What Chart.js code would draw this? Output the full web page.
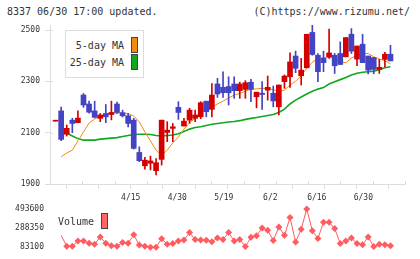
<!DOCTYPE html>
<html>
<head>
<meta charset="utf-8">
<script src="https://cdn.jsdelivr.net/npm/chart.js@4.4.1/dist/chart.umd.min.js"></script>
<style>
  body { margin: 0; width: 420px; height: 259px; background: #fff; position: relative; overflow: hidden;
         font-family: 'DejaVu Sans Mono', monospace; color: #333; }
  canvas { position: absolute; left: 0; }
  #price { top: 0; }
  #volume { top: 195px; }
  .txt { position: absolute; font-size: 10px; line-height: 12px; white-space: pre; }
  .box { position: absolute; border: 1px solid #ddd; background: #fff; box-sizing: border-box; }
  .sw { position: absolute; border: 1px solid #444; box-sizing: border-box; }
</style>
</head>
<body>
<div class="txt" style="left:7px; top:6px;">8337 06/30 17:00 updated.</div>
<div class="txt" style="right:10px; top:6px;">(C)https://www.rizumu.net/</div>

<canvas id="price" width="420" height="206"></canvas>
<canvas id="volume" width="420" height="64"></canvas>

<!-- legends -->
<div class="box" style="left:65px; top:30px; width:79px; height:48px;"></div>
<div class="txt" style="right:296px; top:40px;">5-day MA</div>
<div class="txt" style="right:296px; top:57px;">25-day MA</div>
<div class="sw" style="left:131px; top:37px; width:7px; height:16px; background:#f08c10;"></div>
<div class="sw" style="left:131px; top:54px; width:7px; height:16px; background:#10a820;"></div>
<div class="txt" style="left:58px; top:216px;">Volume</div>
<div class="sw" style="left:101px; top:213px; width:7px; height:16px; background:#ff6466;"></div>

<script>
// --- DATA ---
const dates = ['4/1','4/2','4/3','4/4','4/7','4/8','4/9','4/10','4/11','4/14',
    '4/15','4/16','4/17','4/18','4/21','4/22','4/23','4/24','4/25','4/28',
    '4/30','5/2','5/7','5/8','5/9','5/12','5/13','5/14','5/15','5/16',
    '5/19','5/20','5/21','5/22','5/23','5/26','5/27','5/28','5/29','5/30',
    '6/2','6/3','6/4','6/5','6/6','6/9','6/10','6/11','6/12','6/13',
    '6/16','6/17','6/18','6/19','6/20','6/23','6/24','6/25','6/26','6/27','6/30'];
const labelDates = ['4/15', '4/30', '5/19', '6/2', '6/16', '6/30'];

const open  = [2145,2185,2094,2149,2139,2247,2212,2185,2156,2175, 2171,2212,2178,2166,2149,2023,1971,1981,1952,1996,
               2101,2117,2199,2126,2149,2156,2162,2223,2191,2290, 2277,2280,2290,2264,2269,2297,2240,2254,2266,2254,
               2201,2299,2318,2399,2322,2353,2491,2402,2390,2396, 2402,2409,2396,2484,2387,2445,2399,2393,2347,2386,2406];
const high  = [2145,2200,2130,2156,2185,2253,2223,2223,2175,2210, 2223,2219,2188,2175,2156,2045,2004,2009,1999,2149,
               2143,2136,2221,2156,2195,2188,2221,2223,2292,2312, 2337,2318,2318,2297,2303,2308,2258,2299,2321,2282,
               2286,2325,2411,2418,2390,2484,2519,2409,2418,2504, 2409,2454,2471,2506,2438,2484,2399,2393,2386,2413,2441];
const low   = [2145,2069,2087,2100,2139,2199,2176,2158,2143,2139, 2150,2175,2161,2123,2036,1987,1958,1955,1935,1974,
               2065,2065,2152,2126,2137,2143,2155,2162,2162,2238, 2238,2208,2234,2234,2234,2221,2197,2191,2227,2201,
               2169,2273,2277,2334,2286,2353,2402,2299,2338,2390, 2331,2366,2396,2409,2361,2373,2329,2330,2331,2357,2380];
const close = [2145,2074,2117,2136,2157,2208,2180,2160,2169,2162, 2179,2179,2166,2136,2039,1991,1993,1990,1983,2149,
               2110,2123,2179,2145,2188,2169,2217,2182,2247,2251, 2256,2256,2264,2290,2295,2269,2258,2249,2277,2224,
               2286,2321,2376,2351,2344,2484,2405,2338,2373,2411, 2361,2366,2471,2418,2438,2373,2344,2347,2355,2406,2380];

const ma5  = [null,2006,2021,2032,2068,2103,2138,2153,2165,2173, 2177,2177,2177,2175,2165,2142,2103,2068,2032,2013,
              2032,2060,2083,2114,2138,2157,2180,2188,2200,2212, 2223,2235,2247,2253,2262,2269,2271,2273,2272,2268,
              2260,2266,2286,2301,2321,2352,2375,2389,2393,2394, 2391,2376,2373,2391,2403,2409,2409,2396,2387,2381,2368];
const ma25 = [null,2106,2099,2087,2077,2071,2071,2071,2075,2077, 2079,2081,2085,2089,2093,2094,2094,2093,2089,2087,
              2089,2091,2096,2105,2114,2120,2123,2128,2133,2136, 2139,2142,2144,2147,2152,2156,2159,2163,2167,2171,
              2179,2192,2212,2227,2239,2251,2262,2270,2276,2290, 2299,2307,2315,2325,2332,2336,2338,2340,2346,2353,2357];

const volume = [null,210300,93100,93100,150200,150200,126200,116100,193200,126200,
                100100,93100,133200,126200,216300,106100,93100,84000,83100,173200,
                116100,123100,150200,160200,240300,166200,160200,158000,143200,183200,
                166200,240300,150200,166200,90100,190200,206200,290300,266300,156200,
                300400,210300,400500,140200,276300,493600,260300,176200,350400,350400,
                283300,123100,150200,183200,123100,110100,193200,90100,116100,110100,100100];

const priceTicks = [1900, 2100, 2300, 2500];
const volumeTicks = [83100, 288350, 493600];

// --- STYLE ---
const RED = '#d40000';
const BLUE = '#4343c4';
const ORANGE = '#f08c10';
const GREEN = '#10a820';
const VOL = '#ff5c60';
const GRID = '#dddddd';
const TEXT = '#333333';
const X_MIN = -1, X_MAX = 62.6;

Chart.defaults.font.family = "'DejaVu Sans Mono', monospace";
Chart.defaults.font.size = 8;
Chart.defaults.color = TEXT;
Chart.defaults.animation = false;

const upDown = (ctx) => close[ctx.dataIndex] >= open[ctx.dataIndex] ? RED : BLUE;
const xy = (arr) => arr.map((v, i) => ({ x: i, y: v }));
const plain = (v) => String(v);

// axis tick marks poke a few px into the plot, like the original
const crossTicks = {
    id: 'crossTicks',
    afterDraw(chart) {
        const { ctx, chartArea, scales } = chart;
        ctx.save();
        ctx.strokeStyle = GRID;
        ctx.lineWidth = 1;
        ctx.beginPath();
        scales.x.ticks.forEach((t, k) => {
            const px = Math.round(scales.x.getPixelForTick(k)) + 0.5;
            ctx.moveTo(px, chartArea.bottom - 3);
            ctx.lineTo(px, chartArea.bottom);
        });
        scales.y.ticks.forEach((t, k) => {
            const py = Math.round(scales.y.getPixelForTick(k)) + 0.5;
            ctx.moveTo(chartArea.left, py);
            ctx.lineTo(chartArea.left + 3, py);
        });
        const by = Math.round(chartArea.bottom) + 0.5;
        ctx.moveTo(chartArea.left - 5, by);
        ctx.lineTo(chartArea.left, by);
        ctx.stroke();
        ctx.restore();
    }
};

new Chart(document.getElementById('price'), {
    type: 'bar',
    data: {
        datasets: [
            {
                label: 'body',
                data: open.map((o, i) => ({ x: i, y: [o, close[i]] })),
                backgroundColor: upDown,
                barThickness: 5,
                minBarLength: 1,
                grouped: false,
                order: 0,
            },
            {
                label: 'wick',
                data: low.map((l, i) => ({ x: i, y: [l, high[i]] })),
                backgroundColor: upDown,
                barThickness: 1,
                grouped: false,
                order: 1,
            },
            {
                type: 'line',
                label: '5-day MA',
                data: xy(ma5),
                borderColor: ORANGE,
                borderWidth: 1,
                pointRadius: 0,
                order: 2,
            },
            {
                type: 'line',
                label: '25-day MA',
                data: xy(ma25),
                borderColor: GREEN,
                borderWidth: 1.6,
                pointRadius: 0,
                order: 3,
            },
        ]
    },
    options: {
        responsive: false,
        devicePixelRatio: 1,
        layout: { padding: { top: 25, right: 15, bottom: 0, left: 0 } },
        plugins: { legend: { display: false }, tooltip: { enabled: false } },
        scales: {
            x: {
                type: 'linear',
                min: X_MIN, max: X_MAX,
                offset: false,
                afterBuildTicks: (s) => {
                    const n = 11;
                    s.ticks = Array.from({ length: n + 1 }, (_, k) => ({ value: X_MIN + (X_MAX - X_MIN) * k / n }));
                },
                afterFit: (s) => { s.height = 5; },
                ticks: { display: false },
                grid: { drawOnChartArea: false, drawTicks: true, tickLength: 5, color: GRID },
                border: { display: true, color: GRID },
            },
            xl: {
                type: 'linear',
                position: 'bottom',
                weight: 1,
                min: X_MIN, max: X_MAX,
                afterBuildTicks: (s) => {
                    s.ticks = labelDates.map(d => ({ value: dates.indexOf(d) }));
                },
                afterFit: (s) => { s.height = 17; },
                ticks: { autoSkip: false, maxRotation: 0, padding: 4, callback: (v) => dates[v] },
                grid: { display: false, drawTicks: false },
                border: { display: false },
            },
            y: {
                min: 1900, max: 2520,
                afterBuildTicks: (s) => { s.ticks = priceTicks.map(v => ({ value: v })); },
                afterFit: (s) => { s.width = 50; },
                ticks: { padding: 5, callback: plain },
                grid: { drawOnChartArea: false, drawTicks: true, tickLength: 5, color: GRID },
                border: { display: true, color: GRID },
            }
        }
    },
    plugins: [crossTicks]
});

new Chart(document.getElementById('volume'), {
    type: 'line',
    data: {
        datasets: [{
            label: 'Volume',
            data: xy(volume),
            borderColor: VOL,
            borderWidth: 1,
            backgroundColor: VOL,
            pointStyle: 'rectRot',
            pointRadius: (ctx) => ctx.dataIndex === 1 ? 0 : 3.5,
            pointBorderWidth: 0,
        }]
    },
    options: {
        responsive: false,
        devicePixelRatio: 1,
        layout: { padding: { top: 3.4, right: 15, bottom: 0.7, left: 0 } },
        plugins: { legend: { display: false }, tooltip: { enabled: false } },
        scales: {
            x: { type: 'linear', min: X_MIN, max: X_MAX, display: false },
            y: {
                min: 0, max: 600000,
                afterBuildTicks: (s) => { s.ticks = volumeTicks.map(v => ({ value: v })); },
                afterFit: (s) => { s.width = 50; s.paddingTop = 0; s.paddingBottom = 0; },
                ticks: { padding: 6, callback: plain },
                grid: { display: false, drawTicks: false },
                border: { display: false },
            }
        }
    }
});
</script>
</body>
</html>
